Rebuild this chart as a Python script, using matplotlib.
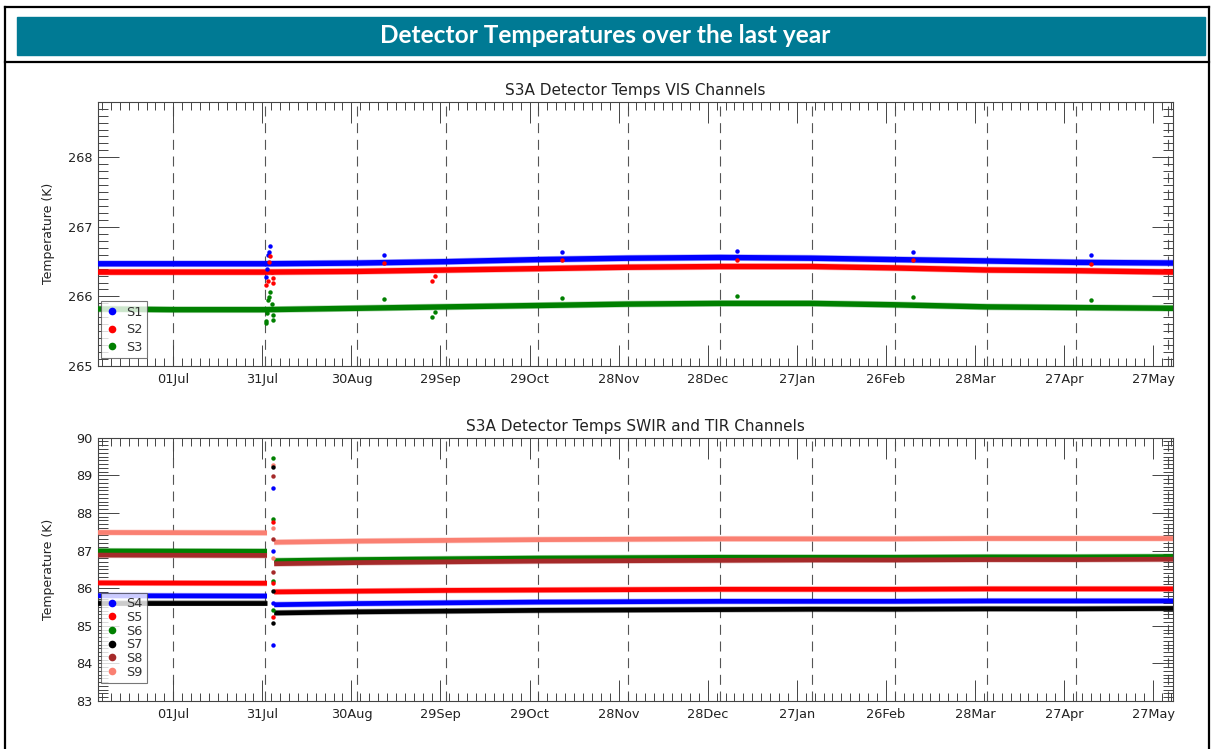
import matplotlib
matplotlib.use("Agg")
import matplotlib.pyplot as plt
import matplotlib.dates as mdates
import numpy as np
import pandas as pd
from matplotlib.lines import Line2D
from matplotlib.patches import Rectangle

W, H = 1211, 749

# ---------------- VIS channels (top panel) ----------------
vis_dates = ["2018-06-05", "2018-07-01", "2018-08-01", "2018-09-01", "2018-10-01",
             "2018-11-01", "2018-12-01", "2019-01-01", "2019-02-01", "2019-03-01",
             "2019-04-01", "2019-05-01", "2019-06-03"]
s1 = [266.47, 266.47, 266.47, 266.48, 266.50, 266.53, 266.55, 266.56, 266.55, 266.53, 266.51, 266.49, 266.48]
s2 = [266.35, 266.35, 266.35, 266.36, 266.38, 266.40, 266.42, 266.43, 266.43, 266.41, 266.38, 266.37, 266.35]
s3 = [265.82, 265.81, 265.81, 265.83, 265.85, 265.87, 265.89, 265.90, 265.90, 265.88, 265.85, 265.84, 265.83]

s1_out_dates = ["2018-08-01 06:00", "2018-08-01 12:00", "2018-08-02 00:00", "2018-08-02 06:00",
                "2018-08-02 18:00", "2018-09-10", "2018-11-09", "2019-01-07", "2019-03-07", "2019-05-06"]
s1_out = [266.28, 266.40, 266.59, 266.64, 266.72, 266.60, 266.64, 266.65, 266.64, 266.59]

s2_out_dates = ["2018-08-01 06:00", "2018-08-01 18:00", "2018-08-02 06:00", "2018-08-02 18:00",
                "2018-08-03 06:00", "2018-08-03 12:00", "2018-08-03 14:00", "2018-09-10",
                "2018-09-26", "2018-09-27", "2018-11-09", "2019-01-07", "2019-03-07", "2019-05-06"]
s2_out = [266.16, 266.22, 266.49, 266.58, 266.35, 266.26, 266.19, 266.48,
          266.22, 266.30, 266.52, 266.53, 266.52, 266.47]

s3_out_dates = ["2018-08-01 06:00", "2018-08-01 08:00", "2018-08-01 12:00", "2018-08-02 00:00",
                "2018-08-02 06:00", "2018-08-02 18:00", "2018-08-03 06:00", "2018-08-03 12:00",
                "2018-08-03 14:00", "2018-09-10", "2018-09-26", "2018-09-27", "2018-11-09",
                "2019-01-07", "2019-03-07", "2019-05-06"]
s3_out = [265.62, 265.65, 265.76, 265.95, 265.99, 266.06, 265.89, 265.73,
          265.66, 265.96, 265.70, 265.77, 265.98, 266.00, 265.99, 265.95]

# ---------------- SWIR / TIR channels (bottom panel) ----------------
pre_dates = ["2018-06-05", "2018-08-01 14:00"]
s4_pre = [85.80, 85.79]
s5_pre = [86.14, 86.13]
s6_pre = [86.99, 86.98]
s7_pre = [85.60, 85.60]
s8_pre = [86.88, 86.87]
s9_pre = [87.48, 87.47]

post_dates = ["2018-08-04", "2018-09-01", "2018-10-01", "2018-11-01", "2018-12-01", "2019-01-01",
              "2019-02-01", "2019-03-01", "2019-04-01", "2019-05-01", "2019-06-03"]
s4_post = [85.56, 85.59, 85.61, 85.63, 85.64, 85.65, 85.65, 85.65, 85.66, 85.66, 85.66]
s5_post = [85.90, 85.92, 85.94, 85.95, 85.96, 85.97, 85.97, 85.97, 85.98, 85.98, 85.98]
s6_post = [86.73, 86.76, 86.78, 86.80, 86.81, 86.82, 86.82, 86.82, 86.83, 86.83, 86.84]
s7_post = [85.34, 85.37, 85.39, 85.41, 85.42, 85.43, 85.44, 85.44, 85.45, 85.45, 85.46]
s8_post = [86.65, 86.68, 86.70, 86.72, 86.73, 86.74, 86.75, 86.75, 86.76, 86.76, 86.77]
s9_post = [87.22, 87.25, 87.27, 87.29, 87.30, 87.31, 87.31, 87.31, 87.32, 87.32, 87.32]

spike_date = "2018-08-03 12:00"
s4_spike = [88.65, 86.99, 85.60, 84.49]
s5_spike = [87.77, 86.13, 85.24]
s6_spike = [89.45, 87.84, 86.20, 85.42]
s7_spike = [89.23, 85.93, 85.08]
s8_spike = [88.99, 87.32, 86.44]
s9_spike = [89.27, 87.61, 86.79]

vis_names = ["S1", "S2", "S3"]
vis_colors = ["#0000ff", "#ff0000", "#008000"]
swir_names = ["S4", "S5", "S6", "S7", "S8", "S9"]
swir_colors = ["#0000ff", "#ff0000", "#008000", "#000000", "#a52a2a", "#fa8072"]

x_start, x_end = "2018-06-05 16:00", "2019-06-02 16:00"
axis_col = "#444444"


def to_dt(dates):
    return pd.to_datetime(dates, format="ISO8601")


def px_box(x0, y0, x1, y1):
    """Pixel box (top-left origin) -> figure fraction rect."""
    return [x0 / W, 1 - y1 / H, (x1 - x0) / W, (y1 - y0) / H]


def band(ax, dates, vals, color, lw=4.0):
    d = to_dt(dates)
    ax.plot(d, vals, color=color, lw=lw + 1.0, alpha=0.3, solid_capstyle="butt", zorder=2)
    ax.plot(d, vals, color=color, lw=lw, solid_capstyle="butt", zorder=3)


def dots(ax, dates, vals, color):
    ax.plot(to_dt(dates), vals, "o", ms=3.2, mec="none", color=color, zorder=4)


def style_axes(ax, ymin, ymax, title):
    ax.set_xlim(pd.Timestamp(x_start), pd.Timestamp(x_end))
    ax.set_ylim(ymin, ymax)
    for sp in ax.spines.values():
        sp.set_color(axis_col)
        sp.set_linewidth(0.8)

    majors = pd.date_range("2018-07-01", periods=12, freq="30D")
    minors = pd.date_range("2018-06-07", "2019-06-02", freq="3D")
    ax.set_xticks(majors)
    ax.set_xticks(minors, minor=True)
    ax.xaxis.set_major_formatter(mdates.DateFormatter("%d%b"))
    ax.set_yticks(np.arange(np.ceil(ymin), ymax + 1e-9, 1.0))
    ax.set_yticks(np.arange(np.ceil(ymin * 10) / 10, ymax + 1e-9, 0.1), minor=True)
    ax.yaxis.set_major_formatter(matplotlib.ticker.FormatStrFormatter("%d"))

    ax.tick_params(which="both", direction="in", top=True, right=True, color=axis_col,
                   width=0.7, labelsize=9.3, labelcolor="#222222")
    ax.tick_params(axis="x", which="major", length=15, pad=5)
    ax.tick_params(axis="x", which="minor", length=6)
    ax.tick_params(axis="y", which="major", length=15, pad=4)
    ax.tick_params(axis="y", which="minor", length=7)

    for m in pd.date_range("2018-07-01", "2019-06-01", freq="MS"):
        ax.axvline(m, color="#555555", lw=0.8, ls=(0, (9, 6)), zorder=1)

    ax.set_title(title, fontsize=11, color="#222222", pad=5)
    ax.set_ylabel("Temperature (K)", fontsize=9, color="#222222")
    ax.yaxis.set_label_coords(-0.04, 0.5)


def legend(ax, names, colors, y0, spacing):
    handles = [Line2D([], [], marker="o", ls="none", ms=5.5, mec="none", color=c) for c in colors]
    leg = ax.legend(handles, names, loc="lower left", bbox_to_anchor=(0.0028, y0),
                    frameon=True, fancybox=False, fontsize=9.3, handlelength=1.0,
                    handletextpad=0.6, borderpad=0.35, labelspacing=spacing,
                    borderaxespad=0.0)
    leg.get_frame().set_edgecolor("#555555")
    leg.get_frame().set_linewidth(0.8)
    for t in leg.get_texts():
        t.set_color("#333333")
    leg.set_zorder(10)


fig = plt.figure(figsize=(W / 100, H / 100), dpi=100)

# header banner and frame
fig.patches.append(Rectangle((17 / W, 1 - 55 / H), (1205 - 17) / W, 38 / H,
                             transform=fig.transFigure, color="#007a94", zorder=0))
fig.lines.append(Line2D([5 / W, 1209 / W], [1 - 7 / H, 1 - 7 / H], transform=fig.transFigure,
                        color="black", lw=1.6))
fig.lines.append(Line2D([5 / W, 1209 / W], [1 - 62 / H, 1 - 62 / H], transform=fig.transFigure,
                        color="black", lw=1.6))
fig.lines.append(Line2D([5 / W, 5 / W], [0, 1 - 7 / H], transform=fig.transFigure,
                        color="black", lw=1.6))
fig.lines.append(Line2D([1209 / W, 1209 / W], [0, 1 - 7 / H], transform=fig.transFigure,
                        color="black", lw=1.6))
fig.text(0.5, 1 - 35.5 / H, "Detector Temperatures over the last year", ha="center", va="center",
         fontsize=17.6, fontweight="bold", color="white", family=["Lato", "DejaVu Sans"])

# top panel
ax1 = fig.add_axes(px_box(98, 101.7, 1173, 366))
style_axes(ax1, 265.0, 268.8, "S3A Detector Temps VIS Channels")
for vals, outd, outv, c in zip([s1, s2, s3], [s1_out_dates, s2_out_dates, s3_out_dates],
                               [s1_out, s2_out, s3_out], vis_colors):
    band(ax1, vis_dates, vals, c, lw=3.9)
    dots(ax1, outd, outv, c)
legend(ax1, vis_names, vis_colors, 0.03, 0.34)

# bottom panel
ax2 = fig.add_axes(px_box(98, 437.7, 1173, 701))
style_axes(ax2, 83.0, 90.0, "S3A Detector Temps SWIR and TIR Channels")
pres = [s4_pre, s5_pre, s6_pre, s7_pre, s8_pre, s9_pre]
posts = [s4_post, s5_post, s6_post, s7_post, s8_post, s9_post]
spikes = [s4_spike, s5_spike, s6_spike, s7_spike, s8_spike, s9_spike]
order = [5, 2, 4, 1, 0, 3]  # draw order so overlaps look like the original
for i in order:
    band(ax2, pre_dates, pres[i], swir_colors[i], lw=3.4)
    band(ax2, post_dates, posts[i], swir_colors[i], lw=3.4)
for i in order:
    dots(ax2, [spike_date] * len(spikes[i]), spikes[i], swir_colors[i])
legend(ax2, swir_names, swir_colors, 0.068, 0.05)

fig.savefig("out.png", dpi=100)
